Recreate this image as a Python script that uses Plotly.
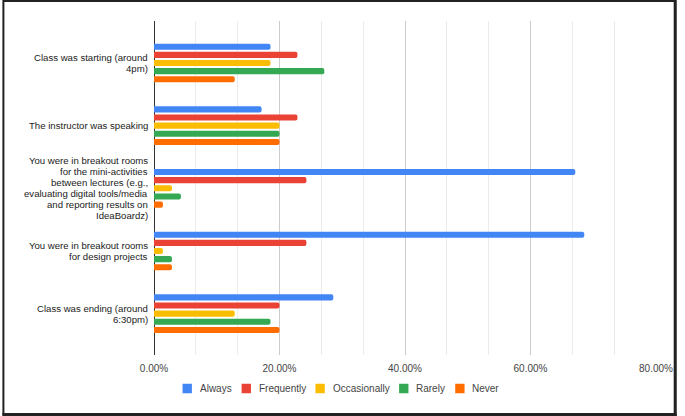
import plotly.graph_objects as go

categories = [
    "Class was starting (around<br>4pm)",
    "The instructor was speaking",
    "You were in breakout rooms<br>for the mini-activities<br>between lectures (e.g.,<br>evaluating digital tools/media<br>and reporting results on<br>IdeaBoardz)",
    "You were in breakout rooms<br>for design projects",
    "Class was ending (around<br>6:30pm)",
]
series_names = ["Always", "Frequently", "Occasionally", "Rarely", "Never"]
always = [0.1857, 0.1714, 0.6714, 0.6857, 0.2857]
frequently = [0.2286, 0.2286, 0.2429, 0.2429, 0.2000]
occasionally = [0.1857, 0.2000, 0.0286, 0.0143, 0.1286]
rarely = [0.2714, 0.2000, 0.0429, 0.0286, 0.1857]
never = [0.1286, 0.2000, 0.0143, 0.0286, 0.2000]
tick_vals = [0, 0.2, 0.4, 0.6, 0.8]
tick_text = ["0.00%", "20.00%", "40.00%", "60.00%", "80.00%"]

colors = ["#4285F4", "#EA4335", "#FBBC04", "#34A853", "#FF6D01"]
series = [always, frequently, occasionally, rarely, never]

W, H = 685, 416
ML, MR, MT, MB = 154, 21, 21, 61
PW, PH = W - ML - MR, H - MT - MB


def px_x(px):
    return (px - ML) / PW


def px_y(py):
    return 1 - (py - MT) / PH


FONT = "Liberation Sans, Arial"

fig = go.Figure()
idx = list(range(len(categories)))
for name, vals, c in zip(series_names, series, colors):
    fig.add_trace(go.Bar(
        name=name, x=vals, y=idx, orientation="h",
        marker=dict(color=c, cornerradius=2, line=dict(width=0)),
        hoverinfo="x+name", showlegend=False,
    ))

# category labels with tight line spacing
LINE = 11
for i, lab in enumerate(categories):
    lines = lab.split("<br>")
    n = len(lines)
    for j, ln in enumerate(lines):
        fig.add_annotation(
            x=0, xref="paper", y=i, yref="y", text=ln, showarrow=False,
            xanchor="right", yanchor="middle", xshift=-4,
            yshift=((n - 1) / 2 - j) * LINE,
            font=dict(family=FONT, size=9.6, color="#222222"),
        )

# custom legend
legend_x = [183, 243, 318, 403, 460]
legend_y = 388.5
SQ = 9.5
shapes = []
for name, c, lx in zip(series_names, colors, legend_x):
    shapes.append(dict(
        type="rect", xref="paper", yref="paper",
        x0=px_x(lx), x1=px_x(lx + SQ),
        y0=px_y(legend_y + SQ / 2), y1=px_y(legend_y - SQ / 2),
        fillcolor=c, line=dict(width=0),
    ))
    fig.add_annotation(
        x=px_x(lx + 15.5), xref="paper", y=px_y(legend_y), yref="paper",
        text=name, showarrow=False, xanchor="left", yanchor="middle",
        font=dict(family=FONT, size=10, color="#444444"),
    )

# outer border
shapes.append(dict(
    type="rect", xref="paper", yref="paper",
    x0=px_x(1), x1=px_x(W - 1.5), y0=px_y(H - 1.5), y1=px_y(1),
    line=dict(color="#222222", width=2), layer="above",
))
shapes.append(dict(
    type="line", xref="paper", yref="paper",
    x0=px_x(W - 1.5), x1=px_x(W - 1.5), y0=px_y(H), y1=px_y(0),
    line=dict(color="#222222", width=3), layer="above",
))
shapes.append(dict(
    type="line", xref="paper", yref="paper",
    x0=px_x(0), x1=px_x(W), y0=px_y(H - 1.5), y1=px_y(H - 1.5),
    line=dict(color="#222222", width=3), layer="above",
))

fig.update_layout(
    width=W, height=H,
    margin=dict(l=ML, r=MR, t=MT, b=MB),
    paper_bgcolor="white", plot_bgcolor="white",
    barmode="group", bargap=0.35, bargroupgap=0.25,
    font=dict(family=FONT, size=10, color="#444444"),
    showlegend=False,
    xaxis=dict(
        range=[0, 0.8], tickvals=tick_vals, ticktext=tick_text,
        showgrid=True, gridcolor="#cccccc", gridwidth=1,
        minor=dict(dtick=0.2 / 3, tick0=0, showgrid=True, gridcolor="#ebebeb", gridwidth=1),
        zeroline=True, zerolinecolor="#333333", zerolinewidth=1,
        showline=False, ticks="", ticklabelstandoff=6,
        tickfont=dict(family=FONT, size=10, color="#444444"),
        fixedrange=True,
    ),
    yaxis=dict(
        range=[len(categories) - 1 + 0.66, -0.67],
        showticklabels=False, showgrid=False, zeroline=False, showline=False,
        fixedrange=True,
    ),
    shapes=shapes,
)

fig.write_html(
    "out.html",
    config={"displayModeBar": False},
    post_script="document.body.style.margin='0';document.body.style.overflow='hidden';",
)
